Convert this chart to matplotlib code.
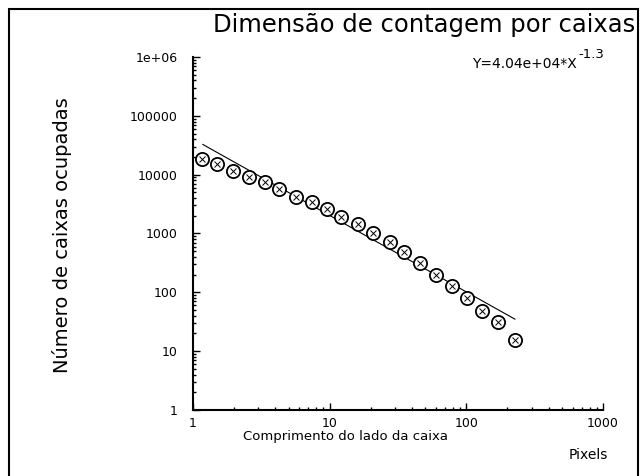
import numpy as np
import matplotlib
matplotlib.use('Agg')
import matplotlib.pyplot as plt
from matplotlib.patches import Rectangle
from matplotlib.ticker import FixedLocator, FixedFormatter, LogLocator, NullFormatter

plt.rcParams['font.family'] = ['DejaVu Sans']

# box-counting data
box_side = [1.16, 1.50, 1.96, 2.57, 3.36, 4.26, 5.67, 7.42, 9.55, 12.1,
            16.1, 20.7, 27.6, 35.0, 45.8, 59.9, 78.5, 101, 130, 170, 227]
boxes_occupied = [18600, 15300, 11600, 9180, 7550, 5740, 4190, 3450, 2620, 1920,
                  1455, 1024, 720, 486, 316, 198, 128, 80, 48, 31, 15.5]

# fitted power law Y = a * X^b
fit_a = 4.04e4
fit_b = -1.3
fit_x = [1.18, 227]

x_ticks = [1, 10, 100, 1000]
x_labels = ['1', '10', '100', '1000']
y_ticks = [1, 10, 100, 1000, 10000, 100000, 1e6]
y_labels = ['1', '10', '100', '1000', '10000', '100000', '1e+06']

fig = plt.figure(figsize=(6.44, 4.76), dpi=100)
ax = fig.add_axes([0.2997, 0.1387, 0.6366, 0.7416])

fit_y = [fit_a * x ** fit_b for x in fit_x]
ax.plot(fit_x, fit_y, color='black', lw=0.8)

ax.plot(box_side, boxes_occupied, linestyle='none', marker='o', ms=9.5,
        mfc='white', mec='black', mew=1.3)
ax.plot(box_side, boxes_occupied, linestyle='none', marker='x', ms=4.5,
        mec='black', mew=0.7)

ax.set_xscale('log')
ax.set_yscale('log')
ax.set_xlim(1, 1000)
ax.set_ylim(1, 1e6)

ax.xaxis.set_major_locator(FixedLocator(x_ticks))
ax.xaxis.set_major_formatter(FixedFormatter(x_labels))
ax.yaxis.set_major_locator(FixedLocator(y_ticks))
ax.yaxis.set_major_formatter(FixedFormatter(y_labels))
ax.xaxis.set_minor_locator(LogLocator(base=10, subs=np.arange(2, 10), numticks=20))
ax.yaxis.set_minor_locator(LogLocator(base=10, subs=np.arange(2, 10), numticks=20))
ax.xaxis.set_minor_formatter(NullFormatter())
ax.yaxis.set_minor_formatter(NullFormatter())

for s in ['top', 'right']:
    ax.spines[s].set_visible(False)
for s in ['left', 'bottom']:
    ax.spines[s].set_linewidth(1.5)

ax.tick_params(which='major', direction='in', length=5, width=1, labelsize=9)
ax.tick_params(which='minor', direction='in', length=2.5, width=1)
ax.tick_params(axis='y', which='major', pad=11)
ax.tick_params(axis='x', which='major', pad=5)

fig.text(0.658, 0.947, 'Dimensão de contagem por caixas', ha='center', va='center',
         fontsize=17.5)
fig.text(0.733, 0.866, 'Y=4.04e+04*X', ha='left', va='center', fontsize=10)
fig.text(0.898, 0.886, '-1.3', ha='left', va='center', fontsize=9.5)
fig.text(0.096, 0.506, 'Número de caixas ocupadas', rotation=90, ha='center',
         va='center', fontsize=14)
fig.text(0.537, 0.082, 'Comprimento do lado da caixa', ha='center', va='center',
         fontsize=9.5)
fig.text(0.913, 0.044, 'Pixels', ha='center', va='center', fontsize=10)

# outer frame, open at the bottom edge
fig.patches.append(Rectangle((9 / 644, -0.05), 629 / 644, 1.05 - 9 / 476,
                             transform=fig.transFigure, fill=False,
                             edgecolor='black', lw=1.5))

fig.savefig('out.png', dpi=100)
